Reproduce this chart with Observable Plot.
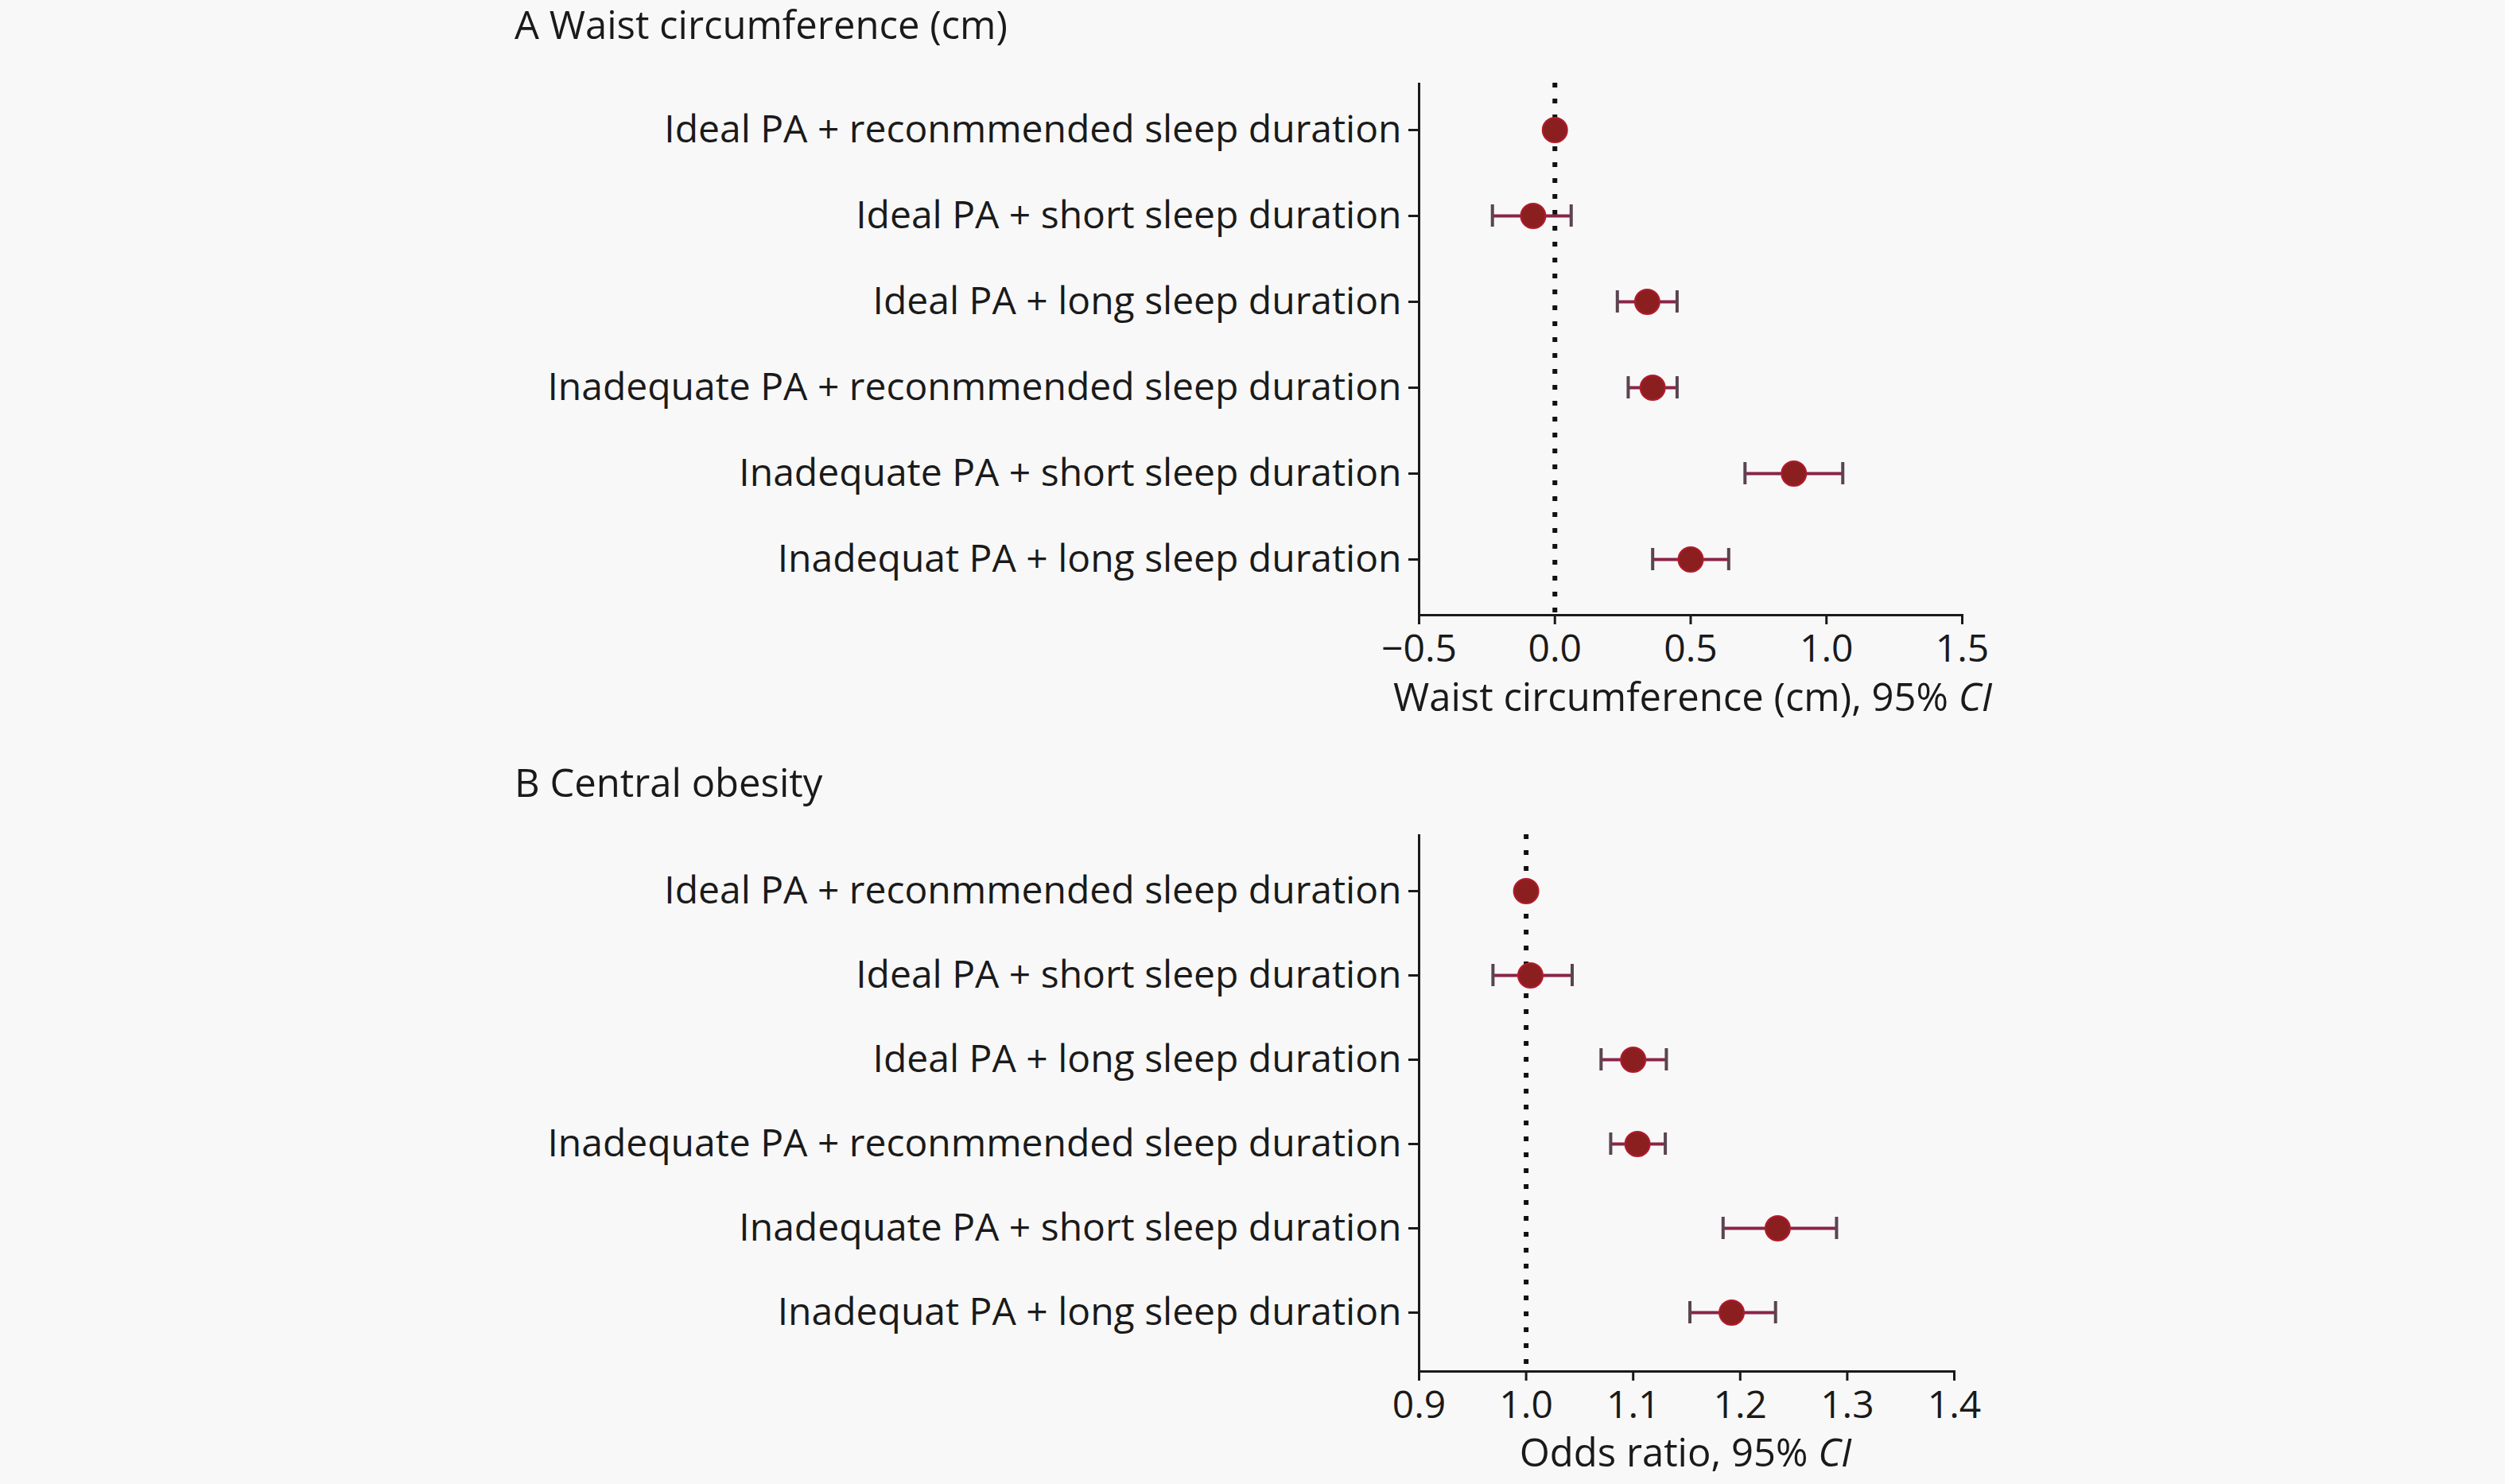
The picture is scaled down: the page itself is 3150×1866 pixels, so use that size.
<!DOCTYPE html>
<html>
<head>
<meta charset="utf-8">
<script src="https://cdn.jsdelivr.net/npm/d3@7"></script>
<script src="https://cdn.jsdelivr.net/npm/@observablehq/plot@0.6"></script>
<style>
  html, body { margin: 0; padding: 0; background: #f8f8f8; }
  #root { position: relative; width: 3150px; height: 1866px; font-family: "Open Sans", sans-serif; color: #1a1a1a; }
  .abs { position: absolute; font-size: 49px; line-height: 1; white-space: nowrap; }
  .xl { text-align: center; }
</style>
</head>
<body>
<div id="root"></div>
<script>
// ---- data ----
const labels = [
  "Ideal PA + reconmmended sleep duration",
  "Ideal PA + short sleep duration",
  "Ideal PA + long sleep duration",
  "Inadequate PA + reconmmended sleep duration",
  "Inadequate PA + short sleep duration",
  "Inadequat PA + long sleep duration"
];
const waistEst = [0, -0.08, 0.34, 0.36, 0.88, 0.50];
const waistLo  = [0, -0.23, 0.23, 0.27, 0.70, 0.36];
const waistHi  = [0,  0.06, 0.45, 0.45, 1.06, 0.64];
const orEst = [1.0, 1.004, 1.100, 1.104, 1.235, 1.192];
const orLo  = [1.0, 0.969, 1.070, 1.079, 1.184, 1.153];
const orHi  = [1.0, 1.043, 1.131, 1.130, 1.290, 1.233];
const waistTicks = [-0.5, 0, 0.5, 1.0, 1.5];
const orTicks = [0.9, 1.0, 1.1, 1.2, 1.3, 1.4];
const titleA = "A Waist circumference (cm)";
const titleB = "B Central obesity";
const xLabelA = "Waist circumference (cm), 95% ";
const xLabelB = "Odds ratio, 95% ";
const ciText = "CI";

const root = document.getElementById("root");

function rows(est, lo, hi) {
  return labels.map((label, i) => ({label, est: est[i], lo: lo[i], hi: hi[i]}));
}

function panel({data, domain, ticks, ref, top, height, marginTop, marginBottom, marginRight, paddingInner, paddingOuter, align}) {
  const bars = data.filter(d => d.hi > d.lo);
  const chart = Plot.plot({
    width: 3150,
    height,
    marginTop,
    marginBottom,
    marginLeft: 1784,
    marginRight,
    style: {fontSize: "48px", fontFamily: "Open Sans", background: "transparent", color: "#1a1a1a", overflow: "visible"},
    x: {domain, ticks, tickFormat: d3.format(".1f")},
    y: {type: "band", domain: labels, paddingInner, paddingOuter, align},
    marks: [
      Plot.frame({anchor: "bottom", stroke: "#1a1a1a", strokeWidth: 3}),
      Plot.ruleX([domain[0]], {stroke: "#1a1a1a", strokeWidth: 3}),
      Plot.axisX({ticks, tickFormat: d3.format(".1f"), tickSize: 12, tickPadding: 12, strokeWidth: 3, label: null}),
      Plot.axisY({tickSize: 13, tickPadding: 9, strokeWidth: 3, label: null}),
      Plot.ruleX([ref], {stroke: "#111", strokeWidth: 6, strokeDasharray: "6 14"}),
      Plot.ruleY(bars, {y: "label", x1: "lo", x2: "hi", stroke: "#8a2448", strokeWidth: 4}),
      Plot.tickX(bars, {x: "lo", y: "label", stroke: "#5a4450", strokeWidth: 4}),
      Plot.tickX(bars, {x: "hi", y: "label", stroke: "#5a4450", strokeWidth: 4}),
      Plot.dot(data, {x: "est", y: "label", r: 15.5, fill: "#8b1f1f", stroke: "#b31b2e", strokeWidth: 2})
    ]
  });
  chart.style.position = "absolute";
  chart.style.left = "0px";
  chart.style.top = top + "px";
  root.appendChild(chart);
}

function addText(cls, text, left, top, italicPart, width) {
  const d = document.createElement("div");
  d.className = "abs " + cls;
  d.style.left = left + "px";
  d.style.top = top + "px";
  if (width) d.style.width = width + "px";
  d.appendChild(document.createTextNode(text));
  if (italicPart) {
    const i = document.createElement("i");
    i.textContent = italicPart;
    d.appendChild(i);
  }
  root.appendChild(d);
}

panel({data: rows(waistEst, waistLo, waistHi), domain: [-0.5, 1.5], ticks: waistTicks, ref: 0,
  top: 0, height: 930, marginTop: 104, marginBottom: 157, marginRight: 683,
  paddingInner: 0.74, paddingOuter: 0.467, align: 0.446});
panel({data: rows(orEst, orLo, orHi), domain: [0.9, 1.4], ticks: orTicks, ref: 1.0,
  top: 940, height: 926, marginTop: 109, marginBottom: 142, marginRight: 693,
  paddingInner: 0.737, paddingOuter: 0.54, align: 0.487});

addText("", titleA, 647, 6);
addText("", titleB, 647, 959);
addText("xl", xLabelA, 1752, 851, ciText, 2467 - 1784);
addText("xl", xLabelB, 1783, 1801, ciText, 2457 - 1784);
</script>
</body>
</html>
